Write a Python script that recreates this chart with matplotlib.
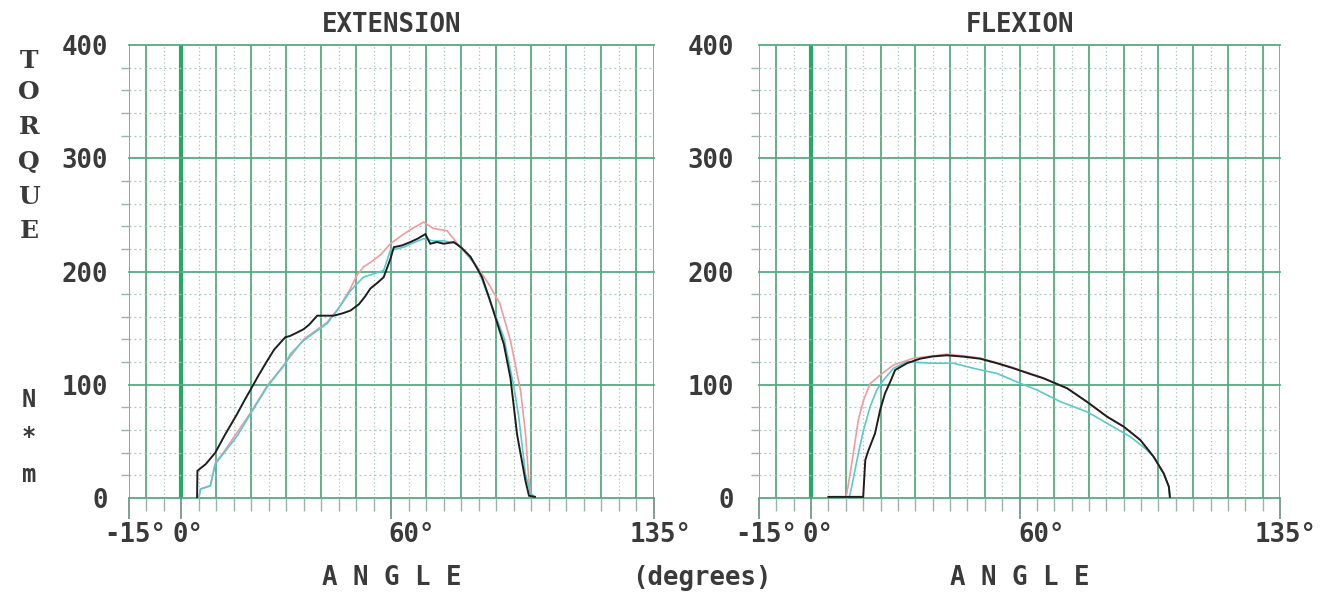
import numpy as np
import matplotlib
matplotlib.use("Agg")
import matplotlib.pyplot as plt
from matplotlib.transforms import blended_transform_factory, ScaledTranslation

# ---------------- data ----------------
ext_black_angle = [4.5, 4.6, 7.0, 9.7, 12.5, 15.9, 18.0, 20.2, 22.0, 24.5, 26.5, 29.7, 31.0,
                   33.0, 34.9, 36.5, 38.8, 41.0, 43.5, 46.0, 48.3, 50.7, 52.5, 54.0, 56.0,
                   57.8, 59.7, 60.7, 63.0, 65.4, 67.5, 69.7, 71.1, 73.0, 75.0, 77.8, 80.0,
                   82.6, 85.9, 88.0, 89.7, 92.1, 94.0, 95.9, 98.3, 99.3, 101.0]
ext_black_torque = [0, 24, 30, 40, 56, 74, 86, 98, 108, 121, 131, 142, 143,
                    146, 149, 153, 161, 161, 161, 163, 165.5, 171, 178, 185, 190,
                    195, 211, 221.5, 223, 226, 229, 233, 224.5, 226, 224.5, 226, 221,
                    213, 195, 176, 159.5, 136, 106, 56, 15, 2, 1]

ext_cyan_angle = [5.0, 5.5, 8.3, 9.7, 12.0, 16.0, 19.7, 24.5, 29.7, 31.1, 34.9, 38.0, 41.6,
                  44.5, 48.3, 52.0, 55.0, 57.8, 59.7, 63.5, 66.0, 69.2, 72.0, 75.0, 78.8,
                  81.5, 84.5, 89.2, 92.1, 95.0, 96.4, 98.3, 99.8, 101.0]
ext_cyan_torque = [0, 8, 10.6, 30, 39, 55, 74, 98, 118.5, 127, 139, 146, 154,
                   165.5, 183, 195, 198, 201, 218.6, 221.5, 225, 229, 227, 227, 224.5,
                   216, 204, 165.5, 142, 98, 71, 21, 3.5, 1]

ext_pink_angle = [5.0, 5.5, 8.3, 9.7, 12.0, 19.7, 24.5, 29.7, 34.9, 41.6, 45.0, 48.3, 50.0,
                  52.0, 54.0, 57.0, 59.7, 63.5, 66.0, 69.2, 72.0, 75.9, 79.7, 84.5, 88.0,
                  91.0, 94.0, 96.9, 98.3, 99.2, 99.8, 101.0]
ext_pink_torque = [0, 8, 11, 31, 40, 75, 99, 119, 140, 155, 168, 185, 196,
                   204, 208, 215, 224.5, 233, 238, 243.6, 238, 236, 221.5, 204, 188,
                   171.5, 139, 94.7, 56.6, 17.7, 3.5, 1]

flx_black_angle = [5.0, 15.0, 15.6, 16.5, 18.4, 19.9, 21.3, 22.8, 24.2, 27.6, 31.4, 35.0,
                   39.1, 43.9, 48.7, 53.5, 58.3, 62.6, 66.9, 73.7, 79.4, 85.2, 90.0, 94.8,
                   98.6, 101.5, 103.0, 103.3]
flx_black_torque = [1, 1, 33.5, 42, 57, 78, 92.5, 102.7, 113, 119, 123, 125,
                    126, 124.8, 123, 119, 114.5, 110, 105.7, 96.9, 85, 71.8, 63, 51.2,
                    36.5, 21.8, 10, 1]

flx_cyan_angle = [5.0, 11.0, 11.7, 13.6, 15.1, 17.0, 18.9, 20.8, 23.7, 27.6, 34.3, 41.0,
                  46.8, 53.5, 60.2, 65.0, 71.8, 79.4, 85.2, 91.9, 96.7, 98.6, 101.5, 103.0,
                  103.3]
flx_cyan_torque = [1, 1, 10, 39.5, 60, 80.6, 95.4, 104, 114.5, 120.4, 119, 119,
                   114.5, 110, 101.3, 95.4, 85, 76.2, 66, 54.1, 42.4, 36.5, 21.8, 10,
                   1]

flx_pink_angle = [5.0, 10.0, 10.3, 11.7, 13.6, 15.1, 17.0, 19.9, 23.7, 29.5, 39.1, 43.9,
                  48.7, 53.5, 58.3, 62.6, 66.9, 73.7, 79.4, 85.2, 90.0, 94.8, 98.6, 101.5,
                  103.0, 103.3]
flx_pink_torque = [1, 1, 4, 30.6, 69, 86.5, 101, 108.6, 117.4, 123.4, 127, 125.5,
                   123.5, 119.5, 115, 110.5, 106, 97, 85, 72, 63, 51, 36.5, 21.8,
                   10, 1]

panel_titles = ["EXTENSION", "FLEXION"]
x_tick_values = [-15, 0, 60, 135]
x_tick_labels = ["-15°", "0°", "60°", "135°"]
y_tick_values = [0, 100, 200, 300, 400]
y_tick_labels = ["0", "100", "200", "300", "400"]

# ---------------- style ----------------
W, H = 1323, 594
fig = plt.figure(figsize=(W / 100, H / 100), dpi=100)
FONT = "DejaVu Sans Mono"
TXT = "#3a3a3a"
GREEN = "#55aa84"
GREEN0 = "#27a866"
MINOR = "#a9c4b7"
FS = 18.5
FW = "bold"

BLACK = "#1e1e1e"
CYAN = "#5cc9c9"
PINK = "#f29aa0"

ax_left_px = [128.8, 759.0]
ax_right_px = [654.0, 1280.0]
ax_top_px, ax_bot_px = 45.0, 498.0
label_dx = [[6, 7, 20, 7], [7, 7, 22, 6]]

series = [
    [(ext_pink_angle, ext_pink_torque, PINK), (ext_cyan_angle, ext_cyan_torque, CYAN),
     (ext_black_angle, ext_black_torque, BLACK)],
    [(flx_pink_angle, flx_pink_torque, PINK), (flx_cyan_angle, flx_cyan_torque, CYAN),
     (flx_black_angle, flx_black_torque, BLACK)],
]

for i in range(2):
    l = ax_left_px[i] / W
    w = (ax_right_px[i] - ax_left_px[i]) / W
    b = (H - ax_bot_px) / H
    h = (ax_bot_px - ax_top_px) / H
    ax = fig.add_axes([l, b, w, h])
    ax.set_xlim(-15, 135)
    ax.set_ylim(0, 400)
    for s in ax.spines.values():
        s.set_visible(False)

    # grid
    for v in range(-10, 131, 10):
        if v == 0:
            ax.axvline(v, color=GREEN0, lw=3.0, zorder=1)
        else:
            ax.axvline(v, color=GREEN, lw=1.3, zorder=1)
    for v in range(-5, 131, 10):
        ax.axvline(v, color=MINOR, lw=0.9, ls=(0, (1, 2)), zorder=1)
    ax.axvline(-15, color=GREEN, lw=1.2, zorder=1)
    ax.axvline(135, color=GREEN, lw=1.2, zorder=1)
    for v in range(0, 401, 100):
        ax.axhline(v, color=GREEN, lw=1.3, zorder=1, clip_on=False)
    for v in range(0, 400, 20):
        if v % 100:
            ax.axhline(v, color=MINOR, lw=0.9, ls=(0, (1.5, 2.5)), zorder=1)

    # ticks
    ax.set_xticks(x_tick_values)
    ax.set_xticks(np.arange(-15, 136, 5), minor=True)
    ax.tick_params(axis="x", which="major", length=15, width=1.2, color="#6b8f7d",
                   labelbottom=False)
    ax.tick_params(axis="x", which="minor", length=9, width=1.0, color="#9ab5a8")
    ax.set_yticks(y_tick_values)
    ax.set_yticklabels(y_tick_labels, fontfamily=FONT, fontsize=FS, color=TXT,
                       fontweight=FW)
    ax.set_yticks(np.arange(20, 400, 20), minor=True)
    pad_px = 21 if i == 0 else 25
    ax.tick_params(axis="y", which="major", length=0, pad=pad_px * 0.72)
    ax.tick_params(axis="y", which="minor", length=6, width=1.0, color="#9ab5a8")

    # x tick labels
    for v, lab, dx in zip(x_tick_values, x_tick_labels, label_dx[i]):
        tr = blended_transform_factory(ax.transData, ax.transAxes) + \
            ScaledTranslation(dx / 100, 0, fig.dpi_scale_trans)
        ax.text(v, -37 / 453, lab, transform=tr, ha="center", va="center",
                fontfamily=FONT, fontsize=FS, color=TXT, fontweight=FW, clip_on=False)

    # curves
    for xs, ys, c in series[i]:
        ax.plot(xs, ys, color=c, lw=1.4 if c == BLACK else 1.2, zorder=3,
                solid_joinstyle="miter")

    ax.set_title(panel_titles[i], fontfamily=FONT, fontsize=FS, color=TXT, pad=9,
                 fontweight=FW)
    ax.text(0.5, -80 / 453, "A N G L E", transform=ax.transAxes, ha="center",
            va="center", fontfamily=FONT, fontsize=FS, color=TXT, fontweight=FW)

# figure-level labels
fig.text(702 / W, 1 - 578 / H, "(degrees)", ha="center", va="center",
         fontfamily=FONT, fontsize=FS, color=TXT, fontweight=FW)
for ch, yp in zip("TORQUE", [61, 92, 127, 162, 197, 231]):
    fig.text(29 / W, 1 - yp / H, ch, ha="center", va="center",
             fontfamily="DejaVu Serif", fontweight="bold", fontsize=18, color=TXT)
for ch, yp in zip("N*m", [400, 437, 475]):
    fig.text(29 / W, 1 - yp / H, ch, ha="center", va="center",
             fontfamily=FONT, fontsize=17, color=TXT, fontweight=FW)

fig.savefig("out.png", dpi=100)
